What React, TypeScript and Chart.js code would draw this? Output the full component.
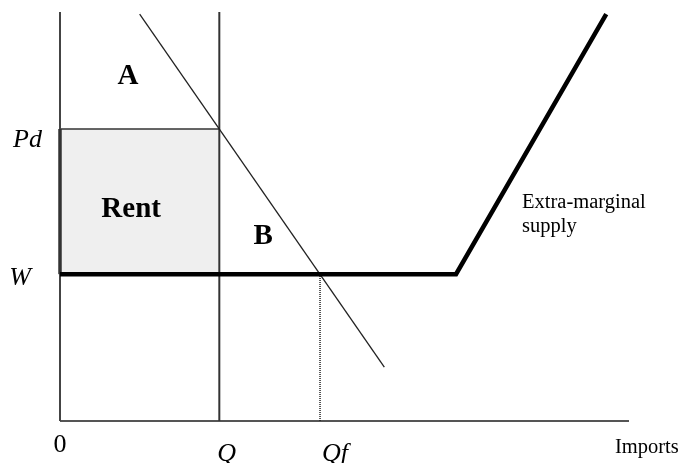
import React, { useEffect, useRef } from "react";
import { Chart, registerables } from "chart.js";

Chart.register(...registerables);

// Economic quantities (axis units 0..100)
const Q = 28;
const QF = 45.7;
const PD = 71.4;
const W = 35.9;
const AXIS_MAX = 100;

const supplyX = [0, 69.6, 96];
const supplyY = [W, W, 99.5];
const demandX = [14, 57];
const demandY = [99.5, 13.2];

const tickLabelsX = ["0", "Q", "Qf"];
const tickValuesX = [0, Q, QF];
const tickLabelsY = ["Pd", "W"];
const tickValuesY = [PD, W];

const regionLabels = ["A", "Rent", "B"];
const regionX = [11.95, 12.5, 35.7];
const regionY = [82.4, 49.9, 43.3];

const SERIF = '"Liberation Serif", "Times New Roman", serif';

const pts = (xs: number[], ys: number[]) => xs.map((x, i) => ({ x, y: ys[i] }));

const labelsPlugin = {
  id: "econLabels",
  afterDatasetsDraw(chart: any) {
    const { ctx, scales } = chart;
    const xs = scales.x;
    const ys = scales.y;
    const x0 = xs.getPixelForValue(0);
    const y0 = ys.getPixelForValue(0);
    ctx.save();
    ctx.fillStyle = "#000";
    ctx.textBaseline = "alphabetic";

    // region labels
    ctx.font = `bold 29px ${SERIF}`;
    ctx.textAlign = "center";
    regionLabels.forEach((t, i) => {
      ctx.fillText(t, xs.getPixelForValue(regionX[i]), ys.getPixelForValue(regionY[i]));
    });

    // y tick labels
    ctx.font = `italic 26px ${SERIF}`;
    ctx.textAlign = "right";
    ctx.fillText(tickLabelsY[0], x0 - 18, ys.getPixelForValue(tickValuesY[0]) + 18);
    ctx.fillText(tickLabelsY[1], x0 - 29, ys.getPixelForValue(tickValuesY[1]) + 11);

    // x tick labels
    ctx.textAlign = "center";
    ctx.font = `26px ${SERIF}`;
    ctx.fillText(tickLabelsX[0], xs.getPixelForValue(tickValuesX[0]), y0 + 31);
    ctx.font = `italic 26px ${SERIF}`;
    ctx.textAlign = "left";
    ctx.fillText(tickLabelsX[1], xs.getPixelForValue(tickValuesX[1]) - 2, y0 + 40);
    ctx.fillText(tickLabelsX[2], xs.getPixelForValue(tickValuesX[2]) + 2, y0 + 40);

    // axis title and curve label
    ctx.font = `20.5px ${SERIF}`;
    ctx.fillText("Imports", xs.getPixelForValue(AXIS_MAX) - 14, y0 + 32);
    const ex = xs.getPixelForValue(81.2);
    const ey = ys.getPixelForValue(52.1);
    ctx.fillText("Extra-marginal", ex, ey);
    ctx.fillText("supply", ex, ey + 24);
    ctx.restore();
  },
};

export default function App() {
  const ref = useRef<HTMLCanvasElement | null>(null);

  useEffect(() => {
    if (!ref.current) return;
    const line = (data: any[], color: string, width: number, extra: any = {}) => ({
      data,
      showLine: true,
      borderColor: color,
      borderWidth: width,
      pointRadius: 0,
      fill: false,
      clip: false,
      tension: 0,
      ...extra,
    });
    const chart = new Chart(ref.current, {
      type: "scatter",
      data: {
        datasets: [
          line(pts(supplyX, supplyY), "#000", 4.5, { borderJoinStyle: "miter", borderCapStyle: "butt" }),
          line(pts(demandX, demandY), "#222", 1.3),
          line([{ x: Q, y: 0 }, { x: Q, y: AXIS_MAX }], "#333", 2),
          line([{ x: QF, y: 0 }, { x: QF, y: W }], "#222", 1.5, { borderDash: [1, 1] }),
          line([{ x: 0, y: W }, { x: 0, y: PD }], "#333", 3.5),
          line([{ x: 0, y: 0 }, { x: 0, y: AXIS_MAX }], "#444", 2),
          line([{ x: 0, y: 0 }, { x: AXIS_MAX, y: 0 }], "#555", 2),
          line([{ x: 0, y: PD }, { x: Q, y: PD }], "#333", 1.5, {
            fill: { target: { value: W } },
            backgroundColor: "#efefef",
          }),
        ],
      },
      options: {
        animation: false,
        responsive: false,
        layout: { padding: { left: 60, right: 51, top: 12, bottom: 42 } },
        plugins: { legend: { display: false }, tooltip: { enabled: false } },
        scales: {
          x: { type: "linear", min: 0, max: AXIS_MAX, display: false },
          y: { type: "linear", min: 0, max: AXIS_MAX, display: false },
        },
      },
      plugins: [labelsPlugin],
    });
    return () => chart.destroy();
  }, []);

  return (
    <div style={{ position: "fixed", left: 0, top: 0, width: 680, height: 463, background: "#fff" }}>
      <canvas ref={ref} width={680} height={463} />
    </div>
  );
}
